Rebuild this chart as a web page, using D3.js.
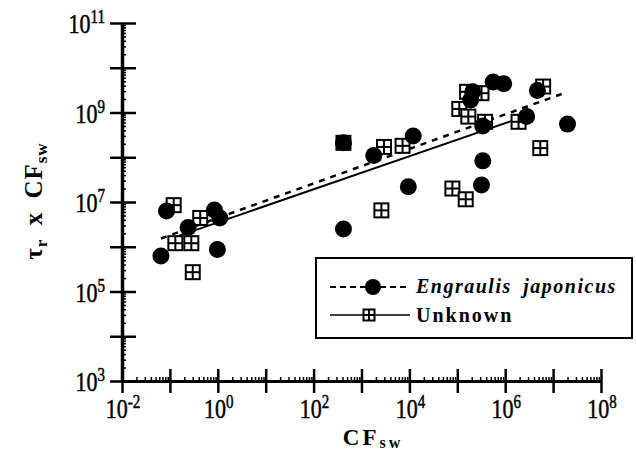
<!DOCTYPE html>
<html>
<head>
<meta charset="utf-8">
<script src="https://cdn.jsdelivr.net/npm/d3@7"></script>
<style>
  body { margin: 0; background: #fff; }
  svg { display: block; }
  text { font-family: "Liberation Serif", "Times New Roman", serif; font-weight: bold; fill: #000; }
</style>
</head>
<body>
<div id="chart"></div>
<script>
var svgWidth = 636;
var svgHeight = 453;

// Engraulis japonicus (filled circles)
var engraulisX = [0.065, 0.085, 0.24, 0.85, 1.1, 0.98,
    420, 1800, 12000, 9500, 420,
    340000, 320000, 2.0e7, 340000, 2.8e6, 4.7e6, 210000, 190000, 560000, 930000];
var engraulisY = [6.2e5, 6.3e6, 2.7e6, 6.6e6, 4.4e6, 8.7e5,
    2.1e8, 1.1e8, 3.0e8, 2.2e7, 2.5e6,
    8.3e7, 2.4e7, 5.5e8, 5.0e8, 8.1e8, 3.1e9, 2.9e9, 1.9e9, 4.8e9, 4.4e9];

// Unknown (gridded squares)
var unknownX = [0.12, 0.43, 0.13, 0.28, 0.30,
    420, 2950, 7200, 2600,
    79000, 150000, 5.4e6, 380000, 1.9e6, 6.2e6, 110000, 170000, 320000, 160000];
var unknownY = [8.5e6, 4.4e6, 1.2e6, 1.2e6, 2.7e5,
    2.1e8, 1.7e8, 1.8e8, 6.5e6,
    2.0e7, 1.15e7, 1.6e8, 6.2e8, 6.2e8, 3.8e9, 1.2e9, 8.1e8, 2.7e9, 2.9e9];

// regression lines (end points)
var engraulisFitX = [0.065, 1.8e7];
var engraulisFitY = [1.53e6, 2.77e9];
var unknownFitX = [0.12, 1.9e6];
var unknownFitY = [1.6e6, 7.3e8];

// axis ticks
var xMajor = [1e-2, 1e-1, 1e0, 1e1, 1e2, 1e3, 1e4, 1e5, 1e6, 1e7, 1e8];
var xLabelExp = [-2, 0, 2, 4, 6, 8];
var yMajor = [1e3, 1e4, 1e5, 1e6, 1e7, 1e8, 1e9, 1e10, 1e11];
var yLabelExp = [3, 5, 7, 9, 11];

var svg = d3.select("#chart")
    .append("svg")
    .attr("width", svgWidth)
    .attr("height", svgHeight);

var x = d3.scaleLog().domain([1e-2, 1e8]).range([122, 601]);
var y = d3.scaleLog().domain([1e3, 1e11]).range([381, 23]);

// minor tick values
function minors(lo, hi) {
    var out = [];
    for (var e = lo; e < hi; e++) {
        for (var m = 2; m <= 9; m++) out.push(m * Math.pow(10, e));
    }
    return out;
}

// x minor ticks (upward)
svg.append("g")
    .attr("transform", `translate(0, ${y(1e3)})`)
    .call(d3.axisTop(x).tickValues(minors(-2, 8)).tickSize(4).tickFormat(""))
    .call(g => g.select(".domain").remove())
    .selectAll("line").attr("stroke-width", 1.5);

// y minor ticks (rightward)
svg.append("g")
    .attr("transform", `translate(${x(1e-2)}, 0)`)
    .call(d3.axisRight(y).tickValues(minors(3, 11)).tickSize(4).tickFormat(""))
    .call(g => g.select(".domain").remove())
    .selectAll("line").attr("stroke-width", 1.5);

// x major
var xAxis = svg.append("g")
    .attr("transform", `translate(0, ${y(1e3)})`)
    .call(d3.axisBottom(x).tickValues(xMajor).tickSize(12).tickSizeOuter(0).tickFormat(""));
xAxis.select(".domain").attr("stroke-width", 3);
xAxis.selectAll(".tick line").attr("y1", -12).attr("stroke-width", 2.5);

// y major
var yAxis = svg.append("g")
    .attr("transform", `translate(${x(1e-2)}, 0)`)
    .call(d3.axisLeft(y).tickValues(yMajor).tickSize(12).tickSizeOuter(0).tickFormat(""));
yAxis.select(".domain").attr("stroke-width", 3.5);
yAxis.selectAll(".tick line").attr("x1", 14).attr("stroke-width", 2.5);

// tick labels: tall, narrow digits
function powerLabel(sel) {
    sel.style("font-size", "22px")
        .style("font-weight", "normal")
        .style("stroke", "#000")
        .style("stroke-width", "0.4px");
    sel.append("tspan").text("10");
    sel.append("tspan").attr("dy", -8).style("font-size", "15px").text(d => d);
}

svg.append("g").selectAll("text")
    .data(xLabelExp)
    .enter()
    .append("text")
    .attr("transform", d => `translate(${x(Math.pow(10, d)) + 1}, 418) scale(1, 1.25)`)
    .attr("text-anchor", "middle")
    .call(powerLabel);

svg.append("g").selectAll("text")
    .data(yLabelExp)
    .enter()
    .append("text")
    .attr("transform", d => `translate(105, ${y(Math.pow(10, d)) + 10}) scale(1, 1.25)`)
    .attr("text-anchor", "end")
    .call(powerLabel);

// axis titles
var xt = svg.append("text")
    .attr("x", 373)
    .attr("y", 445)
    .attr("text-anchor", "middle")
    .style("font-size", "23px")
    .style("letter-spacing", "3px");
xt.append("tspan").text("CF");
xt.append("tspan").attr("dy", 3).style("font-size", "16px").text("sw");

var yt = svg.append("text")
    .attr("transform", "translate(42, 201) rotate(-90)")
    .attr("text-anchor", "middle")
    .style("font-size", "25px")
    .style("letter-spacing", "1px");
yt.append("tspan").text("\u03c4");
yt.append("tspan").attr("dy", 5).style("font-size", "17px").text("r");
yt.append("tspan").attr("dy", -5).text("\u2009 x \u2009CF");
yt.append("tspan").attr("dy", 5).style("font-size", "17px").text("sw");

// fit lines
var line = d3.line().x(d => x(d[0])).y(d => y(d[1]));
svg.append("path")
    .datum(d3.zip(engraulisFitX, engraulisFitY))
    .attr("d", line)
    .attr("fill", "none")
    .attr("stroke", "#000")
    .attr("stroke-width", 2.5)
    .attr("stroke-dasharray", "6,6");
svg.append("path")
    .datum(d3.zip(unknownFitX, unknownFitY))
    .attr("d", line)
    .attr("fill", "none")
    .attr("stroke", "#000")
    .attr("stroke-width", 2);

// gridded square marker
function squareMarker(g, s) {
    g.append("rect")
        .attr("x", -s / 2).attr("y", -s / 2)
        .attr("width", s).attr("height", s)
        .attr("fill", "#fff").attr("stroke", "#000").attr("stroke-width", 2);
    g.append("line").attr("x1", 0).attr("x2", 0).attr("y1", -s / 2).attr("y2", s / 2)
        .attr("stroke", "#000").attr("stroke-width", 2);
    g.append("line").attr("y1", 0).attr("y2", 0).attr("x1", -s / 2).attr("x2", s / 2)
        .attr("stroke", "#000").attr("stroke-width", 2);
}

svg.append("g").selectAll("g")
    .data(d3.zip(unknownX, unknownY))
    .enter()
    .append("g")
    .attr("transform", d => `translate(${x(d[0])}, ${y(d[1])})`)
    .each(function() { squareMarker(d3.select(this), 14); });

svg.append("g").selectAll("circle")
    .data(d3.zip(engraulisX, engraulisY))
    .enter()
    .append("circle")
    .attr("cx", d => x(d[0]))
    .attr("cy", d => y(d[1]))
    .attr("r", 8.5)
    .attr("fill", "#000");

// legend
var legend = svg.append("g");
legend.append("rect")
    .attr("x", 316).attr("y", 258)
    .attr("width", 316).attr("height", 80)
    .attr("fill", "#fff").attr("stroke", "#000").attr("stroke-width", 2);
legend.append("line")
    .attr("x1", 330).attr("x2", 410).attr("y1", 287).attr("y2", 287)
    .attr("stroke", "#000").attr("stroke-width", 2).attr("stroke-dasharray", "6,4");
legend.append("circle").attr("cx", 373).attr("cy", 287).attr("r", 8).attr("fill", "#000");
legend.append("text")
    .attr("x", 416).attr("y", 293)
    .style("font-size", "20px").style("font-style", "italic").style("letter-spacing", "1.5px")
    .text("Engraulis\u2002japonicus");
legend.append("line")
    .attr("x1", 330).attr("x2", 410).attr("y1", 315).attr("y2", 315)
    .attr("stroke", "#000").attr("stroke-width", 1.5);
squareMarker(legend.append("g").attr("transform", "translate(369, 315)"), 11);
legend.append("text")
    .attr("x", 416).attr("y", 322)
    .style("font-size", "20px").style("letter-spacing", "2px")
    .text("Unknown");
</script>
</body>
</html>
